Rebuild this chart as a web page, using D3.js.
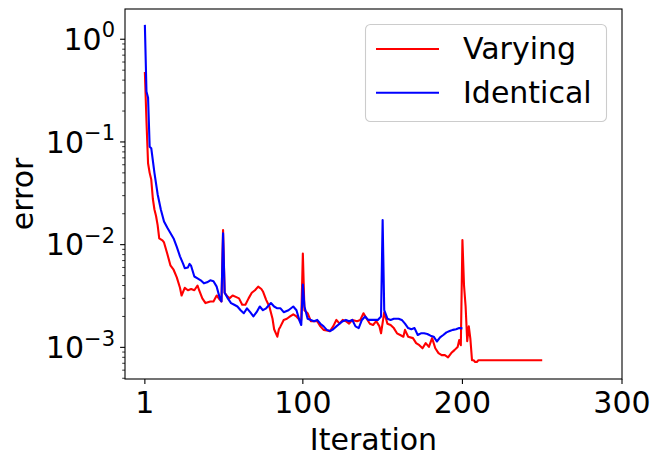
<!DOCTYPE html>
<html>
<head>
<meta charset="utf-8">
<script src="https://d3js.org/d3.v7.min.js"></script>
<style>
body { margin: 0; background: #fff; }
text { font-family: "DejaVu Sans", sans-serif; fill: #000; }
</style>
</head>
<body>
<script>

// data
var iterVarying = [1,2,3,4,5,6,7,8,9,10,12,13,15,17,19,21,23,24,26,28,30,32,34,35,37,39,42,44,46,48,49,
  50,51,53,54,56,58,60,62,64,66,68,70,72,74,75,77,79,81,82,84,85,86,88,90,92,94,96,98,99,
  100,101,103,105,107,109,111,113,115,117,119,121,123,125,127,129,131,134,136,138,140,142,144,146,148,149,
  151,153,155,157,159,161,163,164,166,169,171,173,175,177,179,181,183,185,187,189,191,193,195,197,198,199,
  200,201,202,203,204,205,206,207,208,209,210,250];
var errVarying = [0.48,0.16,0.062,0.05,0.043,0.028,0.022,0.019,0.0155,0.0115,0.011,0.0105,0.0082,0.0063,0.0057,0.0048,0.0038,0.0032,0.0038,0.0036,0.0037,0.0036,0.0040,0.0036,0.0030,0.0027,0.0028,0.0028,0.0032,0.0029,0.0028,
  0.0139,0.0034,0.0031,0.0030,0.0032,0.0031,0.0030,0.0026,0.0026,0.0030,0.0034,0.0036,0.0039,0.0037,0.0035,0.0029,0.0025,0.0019,0.0015,0.00127,0.0015,0.0016,0.00185,0.0019,0.0020,0.0021,0.0020,0.00185,0.00185,
  0.0082,0.0023,0.00215,0.0018,0.0018,0.0018,0.0016,0.00148,0.00146,0.00144,0.0016,0.00185,0.0017,0.00185,0.0018,0.0017,0.00185,0.0018,0.00185,0.00215,0.0019,0.0017,0.00165,0.0018,0.0016,0.00137,
  0.0022,0.0017,0.00165,0.00154,0.00137,0.00132,0.00127,0.00148,0.00127,0.00123,0.0011,0.00105,0.00098,0.0011,0.00101,0.00123,0.00098,0.00088,0.00084,0.00084,0.0008,0.00088,0.00094,0.00101,0.00118,0.00105,
  0.0111,0.0040,0.0025,0.00115,0.0016,0.0012,0.00075,0.00075,0.00072,0.00072,0.00075,0.00075];

var iterIdentical = [1,2,3,4,5,7,9,11,13,15,17,19,21,23,25,26,28,29,30,32,34,36,38,40,42,44,46,48,49,
  50,51,53,55,57,59,61,63,65,67,69,71,73,75,77,80,82,84,86,88,91,94,96,98,99,
  100,101,103,105,107,109,111,113,115,117,119,121,123,125,127,129,131,133,135,137,139,141,143,145,147,149,
  150,151,153,155,157,160,162,164,166,168,170,172,174,176,178,180,182,184,186,188,190,192,194,196,198,200];
var errIdentical = [1.38,0.31,0.27,0.09,0.087,0.05,0.031,0.022,0.0168,0.0147,0.013,0.0115,0.0095,0.0077,0.0065,0.0059,0.0060,0.0065,0.0062,0.0049,0.0047,0.0045,0.0042,0.0043,0.0045,0.0044,0.0039,0.0030,0.0028,
  0.0129,0.0034,0.0030,0.0027,0.0026,0.0025,0.0023,0.00215,0.0024,0.0022,0.0020,0.0022,0.0025,0.0023,0.0024,0.0027,0.0025,0.0024,0.0024,0.0022,0.0023,0.0025,0.0023,0.0018,0.00165,
  0.0041,0.0025,0.0019,0.00185,0.0018,0.00185,0.0017,0.0016,0.00148,0.00144,0.0015,0.0016,0.0017,0.0018,0.00185,0.0018,0.00185,0.0016,0.00154,0.00185,0.0020,0.00185,0.00185,0.00185,0.00185,0.0020,
  0.0174,0.0023,0.0019,0.00185,0.0019,0.0019,0.00185,0.0017,0.00154,0.0015,0.00154,0.00132,0.00137,0.00137,0.00135,0.0013,0.00127,0.00114,0.00125,0.00132,0.0014,0.00144,0.00148,0.0015,0.00154,0.00153];

var xTicks = [1, 100, 200, 300];
var yTickExps = [0, -1, -2, -3];
var seriesNames = ["Varying", "Identical"];
var seriesColors = ["#ff0000", "#0000ff"];

var width = 660, height = 462;
var plotL = 125, plotR = 622, plotT = 9, plotB = 379;
var fs = 30;

var svg = d3.select("body").append("svg")
    .attr("width", width)
    .attr("height", height);

var x = d3.scaleLinear().domain([-11.45, 300]).range([plotL, plotR]);
var y = d3.scaleLog().domain([4.92e-4, 1.97]).range([plotB, plotT]);

// curves
var line = d3.line()
    .x(function (d) { return x(d[0]); })
    .y(function (d) { return y(d[1]); });

var series = [d3.zip(iterVarying, errVarying), d3.zip(iterIdentical, errIdentical)];

svg.append("g").selectAll("path")
    .data(series)
    .enter().append("path")
    .attr("d", line)
    .attr("fill", "none")
    .attr("stroke", function (d, i) { return seriesColors[i]; })
    .attr("stroke-width", 2.1)
    .attr("stroke-linejoin", "round");

// x ticks
var gx = svg.append("g");
gx.selectAll("line")
    .data(xTicks)
    .enter().append("line")
    .attr("x1", function (d) { return x(d); })
    .attr("x2", function (d) { return x(d); })
    .attr("y1", plotB)
    .attr("y2", plotB + 4.9)
    .attr("stroke", "#000")
    .attr("stroke-width", 1.1);
gx.selectAll("text")
    .data(xTicks)
    .enter().append("text")
    .attr("x", function (d) { return x(d); })
    .attr("y", 413)
    .attr("text-anchor", "middle")
    .style("font-size", fs + "px")
    .text(function (d) { return d; });

// y ticks, minor then major
var minor = y.ticks().filter(function (d) {
    return Math.abs(Math.log10(d) - Math.round(Math.log10(d))) > 1e-6;
});
svg.append("g").selectAll("line")
    .data(minor)
    .enter().append("line")
    .attr("x1", plotL - 2.8)
    .attr("x2", plotL)
    .attr("y1", function (d) { return y(d); })
    .attr("y2", function (d) { return y(d); })
    .attr("stroke", "#000")
    .attr("stroke-width", 0.8);

var gy = svg.append("g");
gy.selectAll("line")
    .data(yTickExps)
    .enter().append("line")
    .attr("x1", plotL - 4.9)
    .attr("x2", plotL)
    .attr("y1", function (d) { return y(Math.pow(10, d)); })
    .attr("y2", function (d) { return y(Math.pow(10, d)); })
    .attr("stroke", "#000")
    .attr("stroke-width", 1.1);

var ylab = gy.selectAll("text")
    .data(yTickExps)
    .enter().append("text")
    .attr("x", 115)
    .attr("y", function (d) { return y(Math.pow(10, d)) + 10.8; })
    .attr("text-anchor", "end")
    .style("font-size", fs + "px");
ylab.append("tspan").text("10");
ylab.append("tspan")
    .attr("dy", -12.6)
    .style("font-size", (fs * 0.7) + "px")
    .text(function (d) { return d < 0 ? "\u2212" + (-d) : d; });

// frame
svg.append("rect")
    .attr("x", plotL)
    .attr("y", plotT)
    .attr("width", plotR - plotL)
    .attr("height", plotB - plotT)
    .attr("fill", "none")
    .attr("stroke", "#000")
    .attr("stroke-width", 1.1);

// axis titles
svg.append("text")
    .attr("x", (plotL + plotR) / 2)
    .attr("y", 450)
    .attr("text-anchor", "middle")
    .style("font-size", fs + "px")
    .text("Iteration");

svg.append("text")
    .attr("transform", "translate(33," + ((plotT + plotB) / 2) + ") rotate(-90)")
    .attr("text-anchor", "middle")
    .style("font-size", fs + "px")
    .text("error");

// legend
var legend = svg.append("g");
legend.append("rect")
    .attr("x", 365.5)
    .attr("y", 24.5)
    .attr("width", 241)
    .attr("height", 97)
    .attr("rx", 5)
    .attr("fill", "#fff")
    .attr("fill-opacity", 0.8)
    .attr("stroke", "#cccccc")
    .attr("stroke-width", 1.1);

var item = legend.selectAll("g.item")
    .data(seriesNames)
    .enter().append("g")
    .attr("class", "item")
    .attr("transform", function (d, i) { return "translate(0," + (49 + i * 43.7) + ")"; });
item.append("line")
    .attr("x1", 376)
    .attr("x2", 439)
    .attr("stroke", function (d, i) { return seriesColors[i]; })
    .attr("stroke-width", 2.1);
item.append("text")
    .attr("x", 463)
    .attr("y", 10)
    .style("font-size", fs + "px")
    .text(function (d) { return d; });

</script>
</body>
</html>
